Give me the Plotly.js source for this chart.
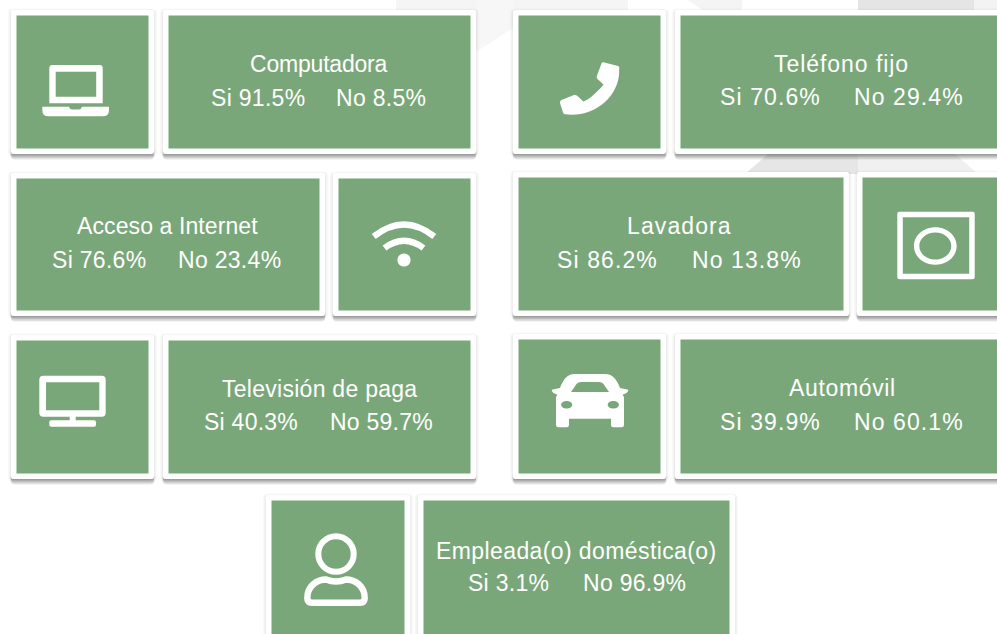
<!DOCTYPE html>
<html><head><meta charset="utf-8">
<script src="https://cdn.plot.ly/plotly-3.0.1.min.js"></script>
<style>html,body{margin:0;padding:0;background:#fff;overflow:hidden}#c{width:997px;height:634px}</style>
</head><body><div id="c"></div>
<script>
// ---- values ----
const categories = ["Computadora","Acceso a Internet","Televisión de paga","Empleada(o) doméstica(o)","Teléfono fijo","Lavadora","Automóvil"];
const siValues = [91.5,76.6,40.3,3.1,70.6,86.2,39.9];
const noValues = [8.5,23.4,59.7,96.9,29.4,13.8,60.1];

// ---- card geometry (pixels, white frame edge) ----
const textCards = [[163,476,10,154],[11,325,173,316],[163,476,335,479],[418,735,495,650],[675,1010,10,154],[513,849,172,316],[675,1010,334,479]];
const iconCards = [[11,154,10,154],[333,476,173,316],[11,154,335,479],[266,410,495,650],[513,666,10,154],[857,1010,172,316],[513,666,334,479]];
const titlePos = [[318.5,64],[167,226],[319,389],[576,551],[841.7,64],[679,226],[842.7,388]];
const siPos = [[258,97.5],[99,260],[251,422],[508.5,583],[770,97],[607,260],[770,422]];
const noPos = [[381,97.5],[229,260],[381,422],[634.5,583],[908.7,97],[746.5,260],[908.7,422]];
// letter spacing (px) of each card's title and value text
const titleSpacing = [-0.2,0.1,0.27,0.4,0.95,1.1,0.65];
const valueSpacing = [0.3,0.3,0.25,0.28,1.1,1.1,1.1];

const GREEN = "#7aa779";
const shapes = [];
function rr(x0,y0,x1,y1,r){return `M${x0+r},${y0}L${x1-r},${y0}Q${x1},${y0} ${x1},${y0+r}L${x1},${y1-r}Q${x1},${y1} ${x1-r},${y1}L${x0+r},${y1}Q${x0},${y1} ${x0},${y1-r}L${x0},${y0+r}Q${x0},${y0} ${x0+r},${y0}Z`;}
function ell(cx,cy,rx,ry){const k=0.5523,a=rx*k,b=ry*k;return `M${cx-rx},${cy}C${cx-rx},${cy-b} ${cx-a},${cy-ry} ${cx},${cy-ry}C${cx+a},${cy-ry} ${cx+rx},${cy-b} ${cx+rx},${cy}C${cx+rx},${cy+b} ${cx+a},${cy+ry} ${cx},${cy+ry}C${cx-a},${cy+ry} ${cx-rx},${cy+b} ${cx-rx},${cy}Z`;}
function fillPath(p,c){shapes.push({type:"path",xref:"x",yref:"y",path:p,fillcolor:c||"#fff",line:{width:0},fillrule:"evenodd"});}
function strokePath(p,w){shapes.push({type:"path",xref:"x",yref:"y",path:p,fillcolor:"rgba(0,0,0,0)",line:{color:"#fff",width:w}});}

// ---- faint background ----
fillPath("M396,0L628,0L628,12L396,12Z","#f5f5f5");
fillPath("M476,0L513,0L513,28L476,52Z","#f7f7f7");
fillPath("M688,0L742,0L742,12L705,12Z","#f4f4f4");
fillPath("M858,0L974,0L974,12L858,12Z","#e5e5e5");
fillPath("M974,0L997,0L997,12L974,12Z","#f3f3f3");
fillPath("M745,174L768,154L858,154L858,174Z","#e6e6e6");
fillPath("M858,154L955,154L978,174L858,174Z","#f0f0f0");

// ---- cards ----
[...textCards,...iconCards].forEach(c=>{
  const [x0,x1,y0,y1]=c;
  for(let i=3;i>=1;i--){ // soft side glow
    shapes.push({type:"path",xref:"x",yref:"y",path:rr(x0-i,y0-i+1.5,x1+i,y1+i,2+i),fillcolor:"rgba(90,90,90,0.035)",line:{width:0}});
  }
  for(let i=5;i>=1;i--){ // shadow under the card
    shapes.push({type:"path",xref:"x",yref:"y",path:rr(x0+0.5-i*0.2,y1-6,x1-0.5+i*0.2,y1+i*1.1,2+i*0.5),fillcolor:"rgba(50,50,50,0.10)",line:{width:0}});
  }
  fillPath(rr(x0,y0,x1,y1,2),"#fff");
  fillPath(`M${x0+5.5},${y0+5.5}L${x1-5.5},${y0+5.5}L${x1-5.5},${y1-5.5}L${x0+5.5},${y1-5.5}Z`,GREEN);
});

// ---- icons ----
// laptop
fillPath("M52.3,65L99.7,65Q102.7,65 102.7,68L102.7,103.3L49.3,103.3L49.3,68Q49.3,65 52.3,65ZM55.7,71.7L55.7,96.7L96.2,96.7L96.2,71.7Z");
fillPath("M42.3,106.7L69,106.7Q70,109.6 72,109.6L79,109.6Q81,109.6 82,106.7L109,106.7L109,110Q109,116.3 103,116.3L48.3,116.3Q42.3,116.3 42.3,110Z");
// wifi
strokePath("M373.7,236.5Q404,212.5 434.3,236.5",6.5);
strokePath("M384.5,248Q404,233.5 423.5,248",6.2);
fillPath(ell(404,260,6.6,6.6));
// tv
fillPath(rr(39.3,375.7,105.7,416.7,4)+"M46,382.3L46,410.3L99.3,410.3L99.3,382.3Z");
fillPath("M69.7,416L75.7,416L75.7,421L69.7,421Z");
fillPath(rr(49.3,420.3,96,426.7,2));
// person
strokePath(ell(336,554,17.7,17.7),6);
strokePath("M312,602.7L360,602.7Q364.7,602.7 364.7,598C364.7,586 355,579.5 346,579.5Q336,583.5 326,579.5C317,579.5 307.3,586 307.3,598Q307.3,602.7 312,602.7Z",6.4);
// phone
fillPath("M603.3,62.3L618,66C619.5,66.5 619.3,68 619.2,72C618.8,84 613.5,94 605,102C594,112 580,116 565,114.3Q563.5,114.3 563,112.5L560,103Q559.5,101 561.5,100L574,95Q576,94.5 577.5,96L583.3,101.5C588,100 592,96.5 595.5,93C599,89.5 602,87 603.5,84.5L597.5,79Q596,77.5 597,75.5L601.5,63.5Q602,62 603.3,62.3Z");
// car (symmetric about x=590)
fillPath("M575,374L605,374C613,374 617,380 620,388L628.3,389.7Q628,392 626.5,393L622.5,394.7Q624,396 624,398L624,418L624,424.7Q624,427.3 621.7,427.3L613.3,427.3Q611,427.3 611,424.7L611,418.7L569,418.7L569,424.7Q569,427.3 566.7,427.3L558.3,427.3Q556,427.3 556,424.7L556,398Q556,396 557.5,394.7L553.5,393Q552,392 551.7,389.7L560,388C563,380 567,374 575,374ZM571,392L609,392L603.5,384Q602,382 599,382L581,382Q578,382 576.5,384Z"+ell(566.7,404.7,5.6,3.8)+ell(613.3,404.7,5.6,3.8));
// washer
fillPath(rr(897.3,211.7,974.7,279.3,2)+"M902.8,217.2L902.8,273.8L969.2,273.8L969.2,217.2Z");
fillPath(ell(935.3,246,21.4,18.8)+ell(935.3,246,16,13.6));

// ---- text ----
const annotations=[];
function txt(t,p,ls){annotations.push({xref:"x",yref:"y",x:p[0],y:p[1],text:`<span style="letter-spacing:${ls}px">${t}</span>`,showarrow:false,xanchor:"center",yanchor:"middle",
  font:{family:"Liberation Sans, Arial, sans-serif",size:23,color:"#fff"}});}
categories.forEach((c,i)=>{
  txt(c,titlePos[i],titleSpacing[i]);
  txt(`Si ${siValues[i].toFixed(1)}%`,siPos[i],valueSpacing[i]);
  txt(`No ${noValues[i].toFixed(1)}%`,noPos[i],valueSpacing[i]);
});

Plotly.newPlot("c",[],{
  width:997,height:634,margin:{l:0,r:0,t:0,b:0},
  paper_bgcolor:"#fff",plot_bgcolor:"#fff",showlegend:false,
  xaxis:{range:[0,997],visible:false,fixedrange:true},
  yaxis:{range:[634,0],visible:false,fixedrange:true},
  shapes,annotations
},{displayModeBar:false,staticPlot:true});
</script></body></html>
